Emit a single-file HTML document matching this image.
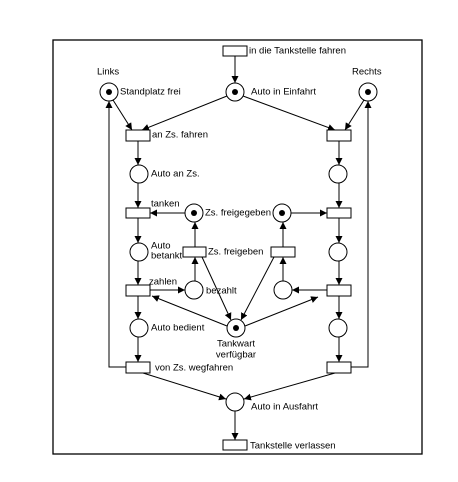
<!DOCTYPE html>
<html><head><meta charset="utf-8"><style>
html,body{margin:0;padding:0;background:#fff;}
svg{display:block;}
text{font-family:"Liberation Sans",Arial,sans-serif;font-size:9.5px;fill:#000;dominant-baseline:middle;}
</style></head><body>
<svg width="458" height="482" viewBox="0 0 458 482" xmlns="http://www.w3.org/2000/svg">
<defs><marker id="a" viewBox="0 0 10 10" refX="10" refY="5" markerWidth="7" markerHeight="7" orient="auto" markerUnits="userSpaceOnUse"><path d="M0,0L10,5L0,10z" fill="#000"/></marker></defs>
<rect x="53" y="40" width="369" height="414" fill="none" stroke="#000" stroke-width="1.3"/>
<g stroke="#000" stroke-width="1" fill="none" marker-end="url(#a)">
<line x1="235" y1="56" x2="235" y2="83"/>
<line x1="227" y1="96" x2="142" y2="130"/>
<line x1="243" y1="96" x2="335" y2="130"/>
<line x1="113" y1="100" x2="132" y2="130"/>
<line x1="364" y1="100" x2="345" y2="130"/>
<line x1="138" y1="141" x2="138" y2="165"/>
<line x1="339" y1="141" x2="339" y2="165"/>
<line x1="138" y1="183" x2="138" y2="208"/>
<line x1="339" y1="183" x2="339" y2="208"/>
<line x1="185" y1="213" x2="150" y2="213"/>
<line x1="291" y1="213" x2="327" y2="213"/>
<line x1="138" y1="218" x2="138" y2="243"/>
<line x1="339" y1="218" x2="339" y2="243"/>
<line x1="195" y1="247" x2="195" y2="222"/>
<line x1="283" y1="247" x2="283" y2="222"/>
<line x1="138" y1="261" x2="138" y2="285"/>
<line x1="339" y1="261" x2="339" y2="285"/>
<line x1="195" y1="281" x2="195" y2="257"/>
<line x1="283" y1="281" x2="283" y2="257"/>
<line x1="150" y1="290" x2="185" y2="290"/>
<line x1="327" y1="290" x2="292" y2="290"/>
<line x1="202" y1="257" x2="231" y2="320"/>
<line x1="274" y1="257" x2="241" y2="320"/>
<line x1="227" y1="326" x2="152" y2="296"/>
<line x1="245" y1="326" x2="318" y2="297"/>
<line x1="138" y1="296" x2="138" y2="319"/>
<line x1="339" y1="296" x2="339" y2="319"/>
<line x1="138" y1="337" x2="138" y2="362"/>
<line x1="339" y1="337" x2="339" y2="362"/>
<line x1="143" y1="373" x2="226" y2="399"/>
<line x1="335" y1="373" x2="244" y2="399"/>
<line x1="235" y1="411" x2="235" y2="440"/>
<polyline points="126,367 109,367 109,101"/>
<polyline points="351,367 368,367 368,101"/>
</g>
<g fill="#fff" stroke="#000" stroke-width="1">
<rect x="223" y="46" width="24" height="10"/>
<rect x="126" y="130" width="24" height="11"/>
<rect x="327" y="130" width="24" height="11"/>
<rect x="126" y="208" width="24" height="10"/>
<rect x="327" y="208" width="24" height="10"/>
<rect x="183" y="247" width="23" height="10"/>
<rect x="271" y="247" width="24" height="10"/>
<rect x="126" y="285" width="24" height="11"/>
<rect x="327" y="285" width="24" height="11"/>
<rect x="126" y="362" width="24" height="11"/>
<rect x="327" y="362" width="24" height="11"/>
<rect x="223" y="440" width="24" height="10"/>
<circle cx="235" cy="92" r="9"/>
<circle cx="109" cy="92" r="9"/>
<circle cx="368" cy="92" r="9"/>
<circle cx="139" cy="174" r="9"/>
<circle cx="338" cy="174" r="9"/>
<circle cx="194" cy="213" r="9"/>
<circle cx="282" cy="213" r="9"/>
<circle cx="139" cy="252" r="9"/>
<circle cx="338" cy="252" r="9"/>
<circle cx="194" cy="290" r="9"/>
<circle cx="283" cy="290" r="9"/>
<circle cx="139" cy="328" r="9"/>
<circle cx="338" cy="328" r="9"/>
<circle cx="236" cy="328" r="9"/>
<circle cx="235" cy="402" r="9"/>
</g>
<g fill="#000">
<circle cx="235" cy="92" r="3"/><circle cx="109" cy="92" r="3"/><circle cx="368" cy="92" r="3"/>
<circle cx="194" cy="213" r="3"/><circle cx="282" cy="213" r="3"/><circle cx="236" cy="328" r="3"/>
</g>
<text x="249" y="51">in die Tankstelle fahren</text>
<text x="97" y="72">Links</text>
<text x="352" y="72">Rechts</text>
<text x="120" y="92">Standplatz frei</text>
<text x="251" y="92">Auto in Einfahrt</text>
<text x="152" y="135">an Zs. fahren</text>
<text x="151" y="174">Auto an Zs.</text>
<text x="151" y="204">tanken</text>
<text x="205" y="213">Zs. freigegeben</text>
<text x="151" y="246">Auto</text>
<text x="151" y="256">betankt</text>
<text x="208" y="252">Zs. freigeben</text>
<text x="149" y="282">zahlen</text>
<text x="206" y="291">bezahlt</text>
<text x="151" y="328">Auto bedient</text>
<text x="236" y="344" text-anchor="middle">Tankwart</text>
<text x="236" y="355" text-anchor="middle">verfügbar</text>
<text x="155" y="368">von Zs. wegfahren</text>
<text x="251" y="407">Auto in Ausfahrt</text>
<text x="250" y="446">Tankstelle verlassen</text>
</svg>
</body></html>
